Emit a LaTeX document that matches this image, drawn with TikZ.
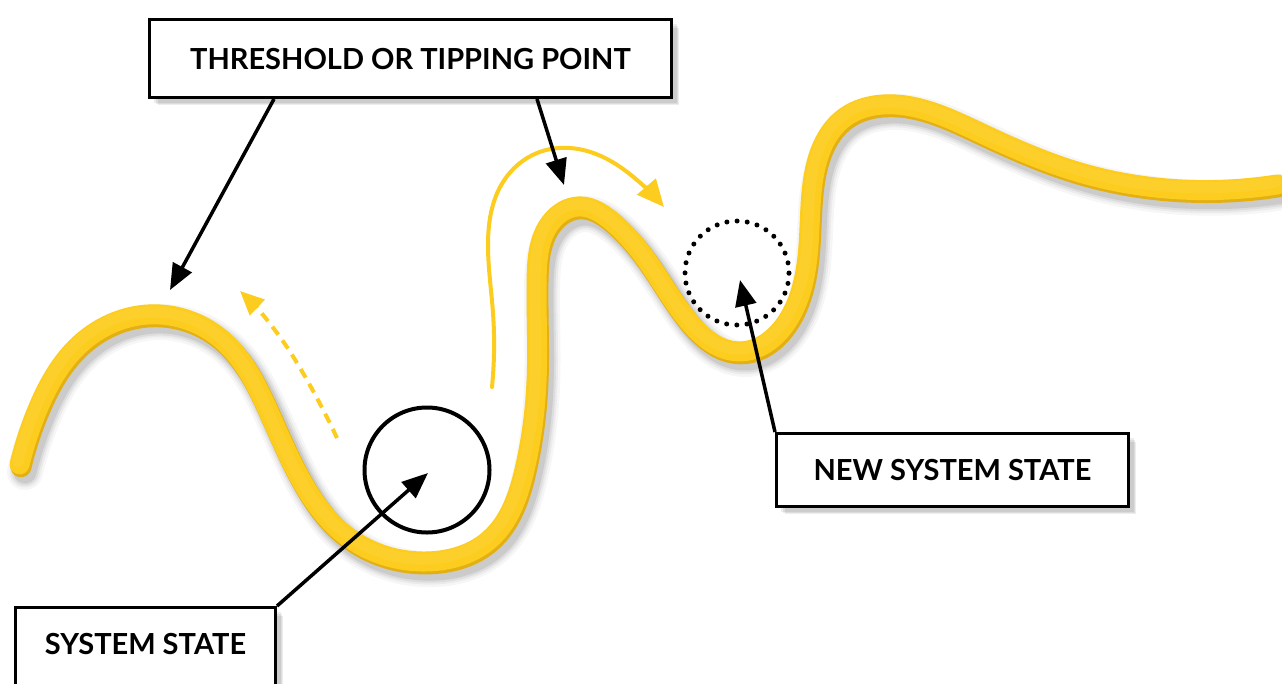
\documentclass[tikz,border=0pt]{standalone}
\usepackage{fontspec}
\setmainfont{Lato}
\usetikzlibrary{arrows.meta,hobby}
\definecolor{gold}{RGB}{252,204,30}
\definecolor{golddark}{RGB}{226,176,20}
\definecolor{goldlight}{RGB}{255,222,90}
\def\wave{(20,465) .. (38,410) .. (80,345) .. (150,315) .. (222,340) .. (268,410) .. (300,478) .. (345,535) .. (430,562) .. (490,540) .. (525,470) .. (537,380) .. (537,280) .. (551,223) .. (580,207) .. (610,220) .. (650,265) .. (690,323) .. (740,352) .. (790,318) .. (809,245) .. (815,172) .. (845,118) .. (885,105) .. (980,133) .. (1080,173) .. (1180,190) .. (1278,185)}
\begin{document}
\begin{tikzpicture}[x=1pt,y=-1pt,
  labelbox/.style={draw=black, line width=3pt, fill=white, inner sep=0pt,
    font=\fontsize{29}{34}\selectfont\bfseries},
  pointer/.style={line width=3.5pt, -{Triangle[length=26pt,width=21pt]}},
  boxshadow/.style={fill=black, opacity=0.07},
  tube/.style={line cap=round, line join=round, use Hobby shortcut}]
\useasboundingbox (0,0) rectangle (1282,683);
\fill[white] (0,0) rectangle (1282,683);
% shadow of the wave
\begin{scope}[shift={(5,7)}]
  \foreach \w/\o in {36/0.035, 31/0.045, 27/0.06, 23/0.08}
    \draw[tube, black, opacity=\o, line width=\w pt] \wave;
\end{scope}
% the wave
\begin{scope}[shift={(1,1.8)}]
\draw[tube, golddark, line width=21pt] \wave;
\end{scope}
\begin{scope}[shift={(-0.4,-0.6)}]
\draw[tube, gold, line width=20pt] \wave;
\end{scope}
\begin{scope}[shift={(-2,-3)}]
\draw[tube, goldlight, opacity=0.22, line width=11pt] \wave;
\end{scope}
% yellow arrows
\draw[gold, line width=4pt, dash pattern=on 10pt off 7pt, -{Triangle[length=24pt,width=21pt]}, use Hobby shortcut]
  (337,438) .. (307,380) .. (280,337) .. (240,291);
\draw[gold, line width=4pt, line cap=round, -{Triangle[length=27pt,width=24pt]}, use Hobby shortcut]
  (492,387) .. (493,313) .. (488,247) .. (503,182) .. (537,153) .. (570,148) .. (603,157) .. (637,180) .. (664,207);
% circles
\node[draw=black, line width=4pt, circle, minimum size=125pt, inner sep=0pt] (cur) at (427,470) {};
\node[draw=black, line width=5pt, circle, minimum size=104pt, inner sep=0pt, line cap=round, dash pattern=on 0pt off 10.2pt] (new) at (737,273) {};
% box shadows
\foreach \d in {2,4,6} {
  \fill[boxshadow] (152+\d,22+\d) rectangle (676+\d*0.5,102+\d*0.5);
  \fill[boxshadow] (18+\d,610+\d) rectangle (280+\d*0.5,700);
  \fill[boxshadow] (779+\d,436+\d) rectangle (1133+\d*0.5,511+\d*0.5);
}
% boxes
\node[labelbox, minimum width=522pt, minimum height=78pt, text depth=-8pt] (tip) at (410.5,58.5) {THRESHOLD OR TIPPING POINT};
\node[labelbox, minimum width=260pt, minimum height=78pt, text depth=6pt] (sys) at (145.5,646.5) {SYSTEM STATE};
\node[labelbox, minimum width=352pt, minimum height=73pt, text depth=-5pt] (nss) at (952.5,470) {NEW SYSTEM STATE};
% pointers
\coordinate (t1) at (170,290);
\coordinate (t2) at (564,185);
\coordinate (t3) at (428,473);
\coordinate (t4) at (740,280);
\draw[pointer] (tip.south -| 274,0) -- (t1);
\draw[pointer] (tip.south -| 537,0) -- (t2);
\draw[pointer] (sys.north east) -- (t3);
\draw[pointer] (nss.north west) -- (t4);
\end{tikzpicture}
\end{document}
